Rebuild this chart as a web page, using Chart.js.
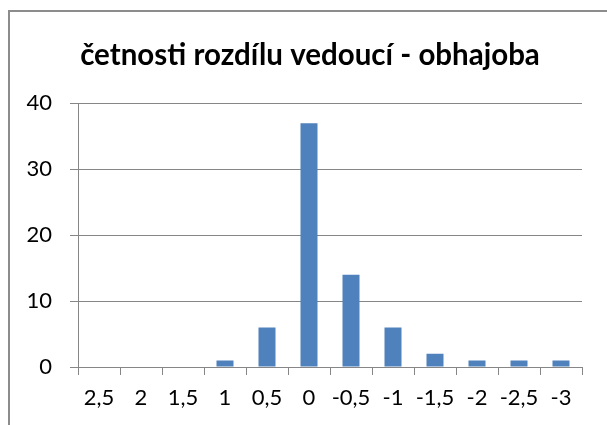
<!DOCTYPE html>
<html>
<head>
<meta charset="utf-8">
<script src="https://cdn.jsdelivr.net/npm/chart.js@4/dist/chart.umd.min.js"></script>
<style>
  html, body { margin: 0; padding: 0; background: #fff; }
  #wrap { position: relative; width: 607px; height: 425px; overflow: hidden; }
  #frame { position: absolute; left: 8px; top: 10px; width: 700px; height: 500px;
           border-left: 2px solid #8c8c8c; border-top: 2px solid #8c8c8c; }
  canvas { position: absolute; left: 0; top: 0; }
</style>
</head>
<body>
<div id="wrap">
  <div id="frame"></div>
  <canvas id="c" width="607" height="425"></canvas>
</div>
<script>
const titleText = "četnosti rozdílu vedoucí - obhajoba";
const categories = ["2,5", "2", "1,5", "1", "0,5", "0", "-0,5", "-1", "-1,5", "-2", "-2,5", "-3"];
const counts = [0, 0, 0, 1, 6, 37, 14, 6, 2, 1, 1, 1];
const yTicks = [0, 10, 20, 30, 40];

const FONT = "Lato, 'Open Sans', sans-serif";
const GRID = "#868686";

new Chart(document.getElementById("c"), {
  type: "bar",
  data: {
    labels: categories,
    datasets: [{
      data: counts,
      backgroundColor: "#4F81BD",
      borderWidth: 0,
      barPercentage: 0.405,
      categoryPercentage: 1.0
    }]
  },
  options: {
    responsive: false,
    animation: false,
    layout: { padding: { left: 13, right: 0, top: 0, bottom: 0 } },
    plugins: {
      legend: { display: false },
      tooltip: { enabled: false },
      title: {
        display: true,
        text: titleText,
        color: "#000",
        font: { family: FONT, size: 29.5, weight: "bold" },
        padding: { top: 38, bottom: 30 }
      }
    },
    scales: {
      x: {
        offset: true,
        grid: { display: true, drawOnChartArea: false, drawTicks: true, tickLength: 8, color: GRID, offset: true },
        border: { display: true, color: GRID, width: 1 },
        ticks: { color: "#000", font: { family: FONT, size: 22 }, padding: 10, maxRotation: 0, autoSkip: false },
        afterFit: (s) => { s.height = 58; }
      },
      y: {
        min: 0, max: 40,
        afterBuildTicks: (s) => { s.ticks = yTicks.map(v => ({ value: v })); },
        grid: { display: true, drawOnChartArea: true, drawTicks: true, tickLength: 8, color: GRID },
        border: { display: true, color: GRID, width: 1 },
        ticks: { color: "#000", font: { family: FONT, size: 22 }, padding: 18 },
        afterFit: (s) => { s.width = 65; }
      },
      yRight: {
        position: "right",
        display: true,
        grid: { display: false },
        border: { display: false },
        ticks: { display: false },
        afterFit: (s) => { s.width = 25; }
      }
    }
  }
});
</script>
</body>
</html>
